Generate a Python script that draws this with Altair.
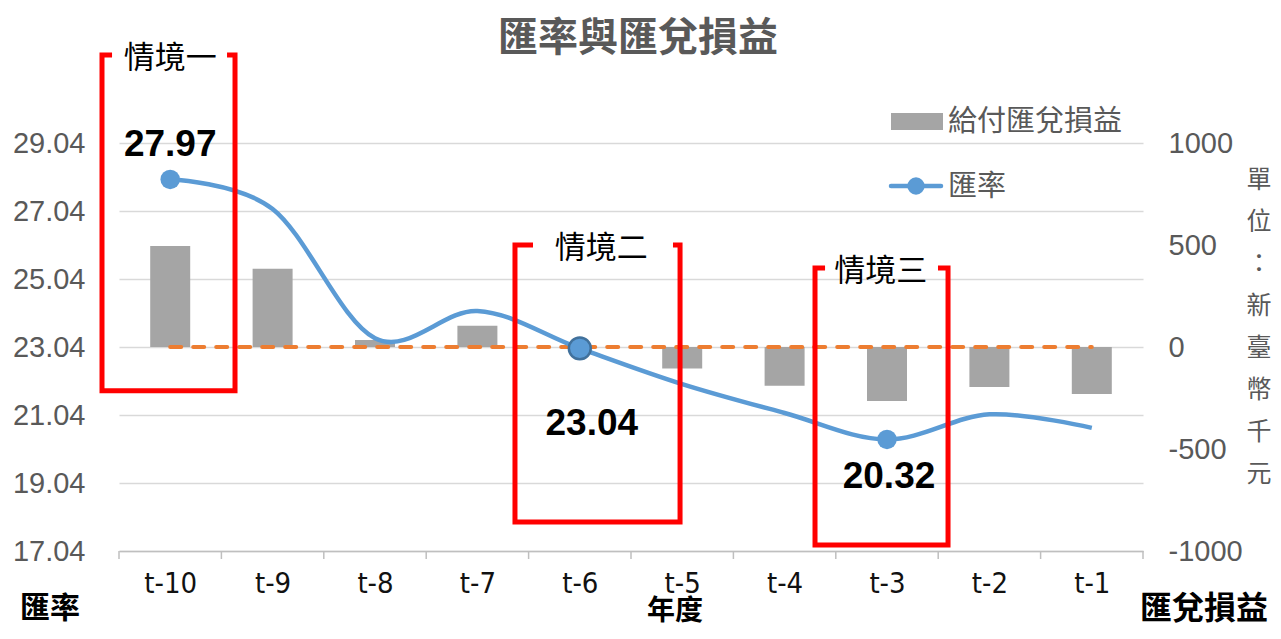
import altair as alt
import pandas as pd

# ---------------- data ----------------
periods = ["t-10", "t-9", "t-8", "t-7", "t-6", "t-5", "t-4", "t-3", "t-2", "t-1"]
rate = [27.97, 27.10, 23.30, 24.10, 23.00, 21.95, 21.10, 20.32, 21.06, 20.66]
fx_gain = [495, 384, 34, 104, 0, -105, -190, -265, -196, -230]
zero_line = [0, 0, 0, 0, 0, 0, 0, 0, 0, 0]

rate_ticks = [17.04, 19.04, 21.04, 23.04, 25.04, 27.04, 29.04]
gain_ticks = [-1000, -500, 0, 500, 1000]

marker_idx = [0, 4, 7]
value_labels = ["27.97", "23.04", "20.32"]

scenario_names = ["情境一", "情境二", "情境三"]
box_left = [-0.666, 3.367, 6.297]
box_right = [0.633, 4.979, 7.596]
box_top = [31.63, 26.04, 25.36]
box_bottom = [21.75, 17.89, 17.22]
stub_left = [-0.568, 3.543, 6.395]
stub_right = [0.555, 4.910, 7.498]
label_x = [0.0, 4.21, 6.94]

title_text = "匯率與匯兌損益"
x_title = "年度"
left_title = "匯率"
right_title = "匯兌損益"
unit_chars = ["單", "位", "：", "新", "臺", "幣", "千", "元"]
legend_bar = "給付匯兌損益"
legend_line = "匯率"

# ---------------- tables ----------------
n = len(periods)
df = pd.DataFrame({"idx": list(range(n)), "period": periods, "rate": rate,
                   "gain": fx_gain, "zero": zero_line})
mk = pd.DataFrame({"idx": marker_idx, "rate": [rate[i] for i in marker_idx],
                   "label": value_labels})

rows = []
for b in range(len(scenario_names)):
    pts = [(stub_left[b], box_top[b]), (box_left[b], box_top[b]),
           (box_left[b], box_bottom[b]), (box_right[b], box_bottom[b]),
           (box_right[b], box_top[b]), (stub_right[b], box_top[b])]
    for k, (x, y) in enumerate(pts):
        rows.append({"box": b, "order": k, "x": x, "y": y})
boxes = pd.DataFrame(rows)
labels_df = pd.DataFrame({"x": label_x, "y": box_top, "name": scenario_names})
bounds = pd.DataFrame({"b": [i - 0.5 for i in range(n + 1)]})

W, H = 1024, 408
CJK = "Noto Sans CJK TC"
NUM = "Liberation Sans"
NARROW = "Liberation Sans Narrow, DejaVu Sans Condensed, Liberation Sans"

label_arr = "[" + ",".join("'" + p + "'" for p in periods) + "]"
xscale = alt.Scale(domain=[-0.5, n - 0.5], nice=False, zero=False, padding=0)
xaxis = alt.Axis(values=list(range(n)), labelExpr=label_arr + "[datum.value]",
                 title=None, grid=False, ticks=False, domain=True,
                 domainColor="#bfbfbf", domainWidth=1.5, labelFont=NARROW,
                 labelFontSize=29, labelColor="#111111", labelPadding=18)
yl_scale = alt.Scale(domain=[17.04, 29.04], nice=False, zero=False, padding=0)
yl_axis = alt.Axis(orient="left", values=rate_ticks, format=".2f", title=None,
                   grid=True, gridColor="#d9d9d9", gridWidth=1.5, domain=False,
                   ticks=False, labelFont=NUM, labelFontSize=29,
                   labelColor="#595959", labelPadding=34)
yr_scale = alt.Scale(domain=[-1000, 1000], nice=False, zero=False, padding=0)
yr_axis = alt.Axis(orient="right", values=gain_ticks, title=None,
                   labelExpr="datum.value < 0 ? '-' + abs(datum.value) : '' + datum.value",
                   grid=False, domain=False, ticks=False, labelFont=NUM,
                   labelFontSize=29, labelColor="#595959", labelPadding=25)

X = alt.X("idx:Q", scale=xscale, axis=xaxis)

# ----- left-scale layers -----
line = alt.Chart(df).mark_line(color="#5b9bd5", strokeWidth=4.5,
                               interpolate="cardinal", tension=0).encode(
    x=X, y=alt.Y("rate:Q", scale=yl_scale, axis=yl_axis))

pts_plain = alt.Chart(mk).transform_filter("datum.idx != 4").mark_point(
    filled=True, color="#5b9bd5", size=380, opacity=1).encode(
    x=alt.X("idx:Q"), y=alt.Y("rate:Q"))
pts_ring = alt.Chart(mk).transform_filter("datum.idx == 4").mark_point(
    filled=True, fill="#5b9bd5", stroke="#41719c", strokeWidth=2.5,
    size=480, opacity=1).encode(x=alt.X("idx:Q"), y=alt.Y("rate:Q"))

val_offsets = [(0, -34), (12, 76), (2, 38)]
val_layers = []
for i, (dx, dy) in enumerate(val_offsets):
    val_layers.append(
        alt.Chart(mk).transform_filter(f"datum.idx == {marker_idx[i]}").mark_text(
            font=NUM, fontSize=37, fontWeight="bold", color="#000000",
            dx=dx, dy=dy, baseline="middle", align="center").encode(
            x=alt.X("idx:Q"), y=alt.Y("rate:Q"), text="label:N"))

box_lines = alt.Chart(boxes).mark_line(color="#ff0000", strokeWidth=5,
                                       strokeJoin="miter", strokeCap="butt").encode(
    x=alt.X("x:Q"), y=alt.Y("y:Q"), detail="box:N", order="order:Q")

box_labels = alt.Chart(labels_df).mark_text(
    font=CJK, fontSize=31, color="#000000", baseline="middle", dy=4).encode(
    x=alt.X("x:Q"), y=alt.Y("y:Q"), text="name:N")

ticks = alt.Chart(bounds).mark_rule(color="#bfbfbf", strokeWidth=1.5).encode(
    x=alt.X("b:Q"), y=alt.value(H), y2=alt.value(H + 8))

one = alt.Data(values=[{"a": 1}])


def txt(t, x, y, **kw):
    return alt.Chart(one).mark_text(**kw).encode(
        x=alt.value(x), y=alt.value(y), text=alt.value(t))


title = txt(title_text, 519, -104, font=CJK, fontSize=40, fontWeight="bold",
            color="#595959", baseline="middle", align="center")
xt = txt(x_title, 556, 469, font=CJK, fontSize=28, fontWeight="bold",
         color="#000000", baseline="middle", align="center")
lt = txt(left_title, -99, 466, font=CJK, fontSize=30, fontWeight="bold",
         color="#000000", baseline="middle", align="left")
rt = txt(right_title, 1021, 466, font=CJK, fontSize=32, fontWeight="bold",
         color="#000000", baseline="middle", align="left")
unit = txt(unit_chars, 1140, 25, font=CJK, fontSize=25, color="#595959",
           baseline="top", align="center", lineHeight=42)

leg_rect = alt.Chart(one).mark_rect(color="#a5a5a5").encode(
    x=alt.value(772), x2=alt.value(824), y=alt.value(-30), y2=alt.value(-13))
leg_t1 = txt(legend_bar, 829, -21, font=CJK, fontSize=29, color="#595959",
             baseline="middle", align="left")
leg_rule = alt.Chart(one).mark_rule(color="#5b9bd5", strokeWidth=4.5,
                                    strokeCap="round").encode(
    x=alt.value(772), x2=alt.value(822), y=alt.value(43))
leg_pt = alt.Chart(one).mark_point(filled=True, color="#5b9bd5", size=300,
                                   opacity=1).encode(
    x=alt.value(797), y=alt.value(43))
leg_t2 = txt(legend_line, 829, 44, font=CJK, fontSize=29, color="#595959",
             baseline="middle", align="left")

left = alt.layer(line, box_lines, pts_plain, pts_ring, *val_layers, box_labels,
                 ticks, title, xt, lt, rt, unit, leg_rect, leg_t1, leg_rule,
                 leg_pt, leg_t2)

# ----- right-scale layers -----
bars = alt.Chart(df).mark_bar(color="#a5a5a5", size=40).encode(
    x=X, y=alt.Y("gain:Q", scale=yr_scale, axis=yr_axis), y2=alt.Y2(datum=0))
dash = alt.Chart(df).mark_line(color="#ed7d31", strokeWidth=4,
                               strokeDash=[11, 12], strokeCap="round").encode(
    x=X, y=alt.Y("zero:Q", scale=yr_scale, axis=yr_axis))
right = alt.layer(bars, dash)

chart = alt.layer(right, left).resolve_scale(y="independent").properties(
    width=W, height=H, autosize=alt.AutoSizeParams(type="none"),
    padding={"left": 111, "top": 135, "right": 130, "bottom": 75},
    background="white").configure_view(stroke=None)

chart.save("out.html", embed_options={"renderer": "svg", "actions": False})
